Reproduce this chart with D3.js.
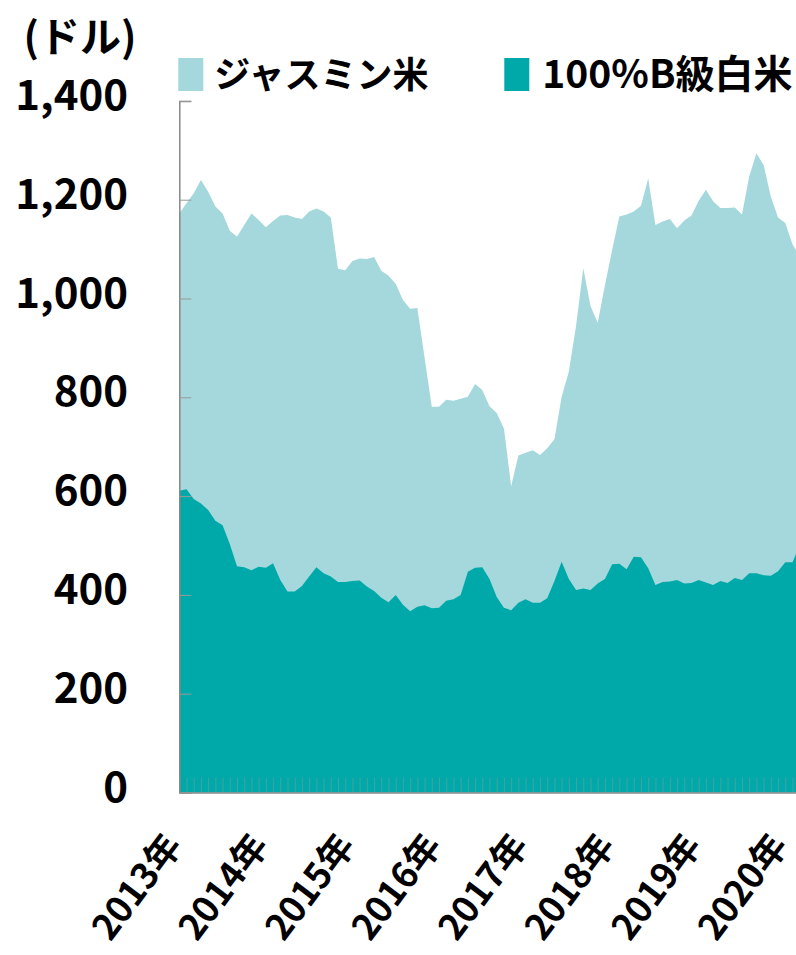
<!DOCTYPE html>
<html>
<head>
<meta charset="utf-8">
<script src="https://cdnjs.cloudflare.com/ajax/libs/d3/7.8.5/d3.min.js"></script>
<style>
  html, body { margin: 0; padding: 0; background: #fff; }
  svg { display: block; font-family: "Noto Sans CJK JP", "Noto Sans", sans-serif; }
</style>
</head>
<body>
<figure id="rice-chart" style="margin:0"></figure>
<script>
// monthly prices, Jan 2013 .. Mar 2020 (USD / t)
const months = d3.timeMonth.range(new Date(2013, 0, 1), new Date(2020, 3, 1)).map(d3.timeFormat('%Y-%m'));

const jasmine = [
  1172, 1193, 1213, 1240, 1216, 1186, 1172, 1137, 1125, 1149, 1172, 1159,
  1144, 1157, 1168, 1169, 1164, 1161, 1176, 1182, 1176, 1164, 1060, 1057,
  1076, 1081, 1080, 1084, 1056, 1046, 1030, 997, 979, 981, 880, 781,
  781, 795, 793, 797, 801, 827, 815, 782, 768, 737, 620, 682,
  688, 693, 683, 697, 715, 801, 852, 945, 1061, 985, 951, 1027,
  1098, 1166, 1170, 1176, 1188, 1243, 1149, 1156, 1161, 1142, 1158, 1168,
  1198, 1220, 1197, 1183, 1183, 1184, 1170, 1247, 1294, 1270, 1206, 1164,
  1153, 1110, 1085
];

const whiteB = [
  611, 614, 594, 585, 572, 550, 541, 503, 458, 456, 450, 457,
  455, 464, 430, 407, 407, 418, 437, 456, 444, 437, 426, 426,
  428, 429, 417, 408, 394, 385, 400, 380, 367, 376, 379, 373,
  374, 388, 391, 400, 447, 455, 456, 432, 396, 374, 369, 384,
  391, 384, 384, 393, 428, 467, 432, 410, 413, 410, 423, 432,
  462, 463, 452, 477, 476, 454, 420, 426, 427, 430, 423, 424,
  430, 425, 420, 428, 424, 434, 430, 444, 444, 440, 439, 448,
  466, 466, 500
];

const yTicks = [0, 200, 400, 600, 800, 1000, 1200, 1400];
const yearTicks = ['2013-01', '2014-01', '2015-01', '2016-01', '2017-01', '2018-01', '2019-01', '2020-01'];
const yearLabels = ['2013年', '2014年', '2015年', '2016年', '2017年', '2018年', '2019年', '2020年'];
const seriesNames = ['ジャスミン米', '100%B級白米'];
const colors = ['#a4d8dc', '#00a9a9'];

const width = 796;
const height = 955;
const plotLeft = 179.3;
const step = 7.214;
const plotBottom = 792.5;
const plotTop = 100.9;

const svg = d3.select('figure#rice-chart')
  .append('svg')
  .attr('width', width)
  .attr('height', height);

const xScale = d3.scalePoint()
  .domain(months)
  .range([plotLeft, plotLeft + step * (months.length - 1)]);

const yScale = d3.scaleLinear()
  .domain([0, 1400])
  .range([plotBottom, plotTop]);

const area = d3.area()
  .x((d, i) => xScale(months[i]))
  .y0(yScale(0))
  .y1(d => yScale(d));

// areas overlap, jasmine behind
svg.selectAll('.area')
  .data([jasmine, whiteB])
  .join('path')
  .attr('class', 'area')
  .attr('d', d => area(d))
  .attr('fill', (d, i) => colors[i]);

// monthly ticks along the bottom (inside the plot)
svg.append('g')
  .attr('transform', 'translate(0,' + plotBottom + ')')
  .call(d3.axisTop(xScale).tickSize(15).tickFormat(''))
  .call(g => g.select('.domain').remove())
  .call(g => g.selectAll('.tick line').attr('stroke', '#7a9a9c').attr('stroke-width', 1).attr('opacity', 0.6));

// bottom line
svg.append('g')
  .attr('transform', 'translate(0,' + plotBottom + ')')
  .call(d3.axisBottom(xScale).tickValues([]).tickSizeOuter(0))
  .call(g => g.select('.domain').attr('stroke', '#888').attr('stroke-width', 1.5));

// year labels
svg.append('g')
  .selectAll('text')
  .data(yearTicks)
  .join('text')
  .attr('transform', d => 'translate(' + (xScale(d) + 4) + ',' + 846 + ') rotate(-53)')
  .attr('text-anchor', 'end')
  .attr('font-size', 36)
  .attr('font-weight', 700)
  .attr('fill', '#000')
  .text((d, i) => yearLabels[i]);

// y axis with inward ticks
svg.append('g')
  .attr('transform', 'translate(' + plotLeft + ',0)')
  .call(d3.axisRight(yScale).tickValues(yTicks).tickSize(12).tickFormat(''))
  .call(g => g.select('.domain').attr('stroke', '#888').attr('stroke-width', 1.5))
  .call(g => g.selectAll('.tick line').attr('stroke', '#999'));

svg.append('g')
  .selectAll('text')
  .data(yTicks)
  .join('text')
  .attr('x', 128)
  .attr('y', d => yScale(d) - 6)
  .attr('dy', '0.36em')
  .attr('text-anchor', 'end')
  .attr('font-size', 42)
  .attr('font-weight', 700)
  .attr('fill', '#000')
  .text(d => d3.format(',')(d));

// unit
svg.append('text')
  .attr('x', 80)
  .attr('y', 52)
  .attr('text-anchor', 'middle')
  .attr('font-size', 41)
  .attr('font-weight', 700)
  .attr('fill', '#000')
  .text('(ドル)');

// legend
const legendX = [178.3, 504.3];
const legendFont = [36, 39];
const legend = svg.append('g')
  .selectAll('g')
  .data(seriesNames)
  .join('g')
  .attr('transform', (d, i) => 'translate(' + legendX[i] + ',58)');

legend.append('rect')
  .attr('width', 25)
  .attr('height', 33)
  .attr('fill', (d, i) => colors[i]);

legend.append('text')
  .attr('x', (d, i) => i === 0 ? 36 : 38)
  .attr('y', 30)
  .attr('font-size', (d, i) => legendFont[i])
  .attr('font-weight', 700)
  .attr('fill', '#000')
  .text(d => d);
</script>
</body>
</html>
